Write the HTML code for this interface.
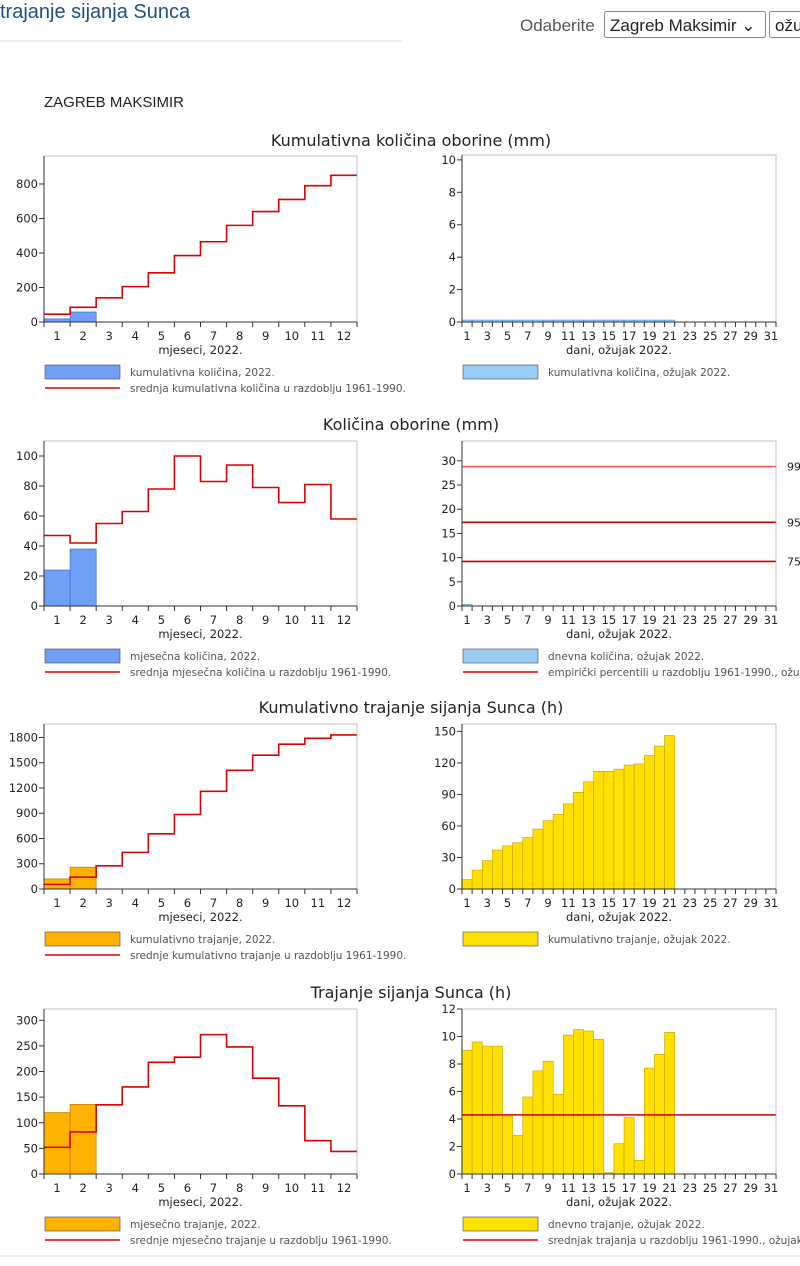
<!DOCTYPE html><html><head><meta charset="utf-8"><style>
body{margin:0;width:800px;height:1266px;overflow:hidden;background:#fff;font-family:"DejaVu Sans","Liberation Sans",sans-serif;}
</style></head><body>
<svg id="s" width="800" height="1266" xmlns="http://www.w3.org/2000/svg" style="position:absolute;left:0;top:0"></svg>
<script>
const s=document.getElementById('s');let h='';
function T(x,y,t,o){o=o||{};h+=`<text x="${x}" y="${y}" font-size="${o.fs||11}" fill="${o.c||'#222'}" text-anchor="${o.a||'middle'}" font-family="${o.ff||'DejaVu Sans,Liberation Sans,sans-serif'}">${t}</text>`;}
function R(x,y,w,hh,f,st){h+=`<rect x="${x}" y="${y}" width="${w}" height="${hh}" fill="${f}" stroke="${st||'none'}" stroke-width="0.6"/>`;}
function L(x1,y1,x2,y2,c,w){h+=`<line x1="${x1}" y1="${y1}" x2="${x2}" y2="${y2}" stroke="${c}" stroke-width="${w||1}"/>`;}
T(0,18,'trajanje sijanja Sunca',{fs:20,c:'#1d4f86',a:'start',ff:'Liberation Sans,sans-serif'});
L(0,41,402,41,'#ddd',1);
T(520,31,'Odaberite',{fs:17,c:'#555',a:'start',ff:'Liberation Sans,sans-serif'});
h+=`<rect x="604.5" y="11.5" width="161" height="26" rx="2" fill="#fff" stroke="#888"/>`;
T(610,31,'Zagreb Maksimir ⌄',{fs:17,c:'#222',a:'start',ff:'Liberation Sans,sans-serif'});
h+=`<rect x="769.5" y="11.5" width="40" height="26" rx="2" fill="#fff" stroke="#888"/>`;
T(775,31,'ožujak',{fs:17,c:'#222',a:'start',ff:'Liberation Sans,sans-serif'});
T(44,107,'ZAGREB MAKSIMIR',{fs:15,a:'start',ff:'Liberation Sans,sans-serif'});
function chart(cfg){
 const {x0,x1,top,bot,max,ticks,n,bars,bc,bs,red,hl,xl,leg}=cfg;
 const sy=v=>bot-(v/max)*(bot-top);const w=(x1-x0)/n;
 if(bars)bars.forEach((v,i)=>{if(v!=null)R(x0+i*w,sy(v),w,bot-sy(v),bc,bs);});
 if(red){let p='';red.forEach((v,i)=>{p+=(i?'L':'M')+(x0+i*w)+','+sy(v)+'L'+(x0+(i+1)*w)+','+sy(v);});h+=`<path d="${p}" fill="none" stroke="#d00" stroke-width="1.6"/>`;}
 if(hl)hl.forEach(v=>{L(x0,sy(v[0]),x1,sy(v[0]),v[1],v[2]);if(v[3])T(787,sy(v[0])+4,v[3],{a:'start'});});
 R(x0,top,x1-x0,bot-top,'none','#999');
 L(x0,bot,x1,bot,'#333',1);L(x0,top,x0,bot,'#333',1);
 ticks.forEach(v=>{L(x0-5,sy(v),x0,sy(v),'#333');T(x0-6,sy(v)+4,v,{a:'end',fs:11.5});});
 for(let i=0;i<=n;i++)L(x0+i*w,bot,x0+i*w,bot+5,'#333');
 for(let i=0;i<n;i++){if(n==12||i%2==0)T(x0+(i+.5)*w,bot+18,i+1,{fs:11.5});}
 T((x0+x1)/2,bot+32,xl,{fs:11.5});
 R(x0+1,bot+43,75,14,leg[2],'#445');T(x0+86,bot+54,leg[0],{a:'start',fs:10.5,c:'#555'});
 if(leg[1]){L(x0+1,bot+66,x0+76,bot+66,'#d00',1.6);T(x0+86,bot+70,leg[1],{a:'start',fs:10.5,c:'#555'});}
}
const LX=[44,357],RX=[462,776];
const d21=a=>a.concat(Array(31-a.length).fill(null));
T(411,146,'Kumulativna količina oborine (mm)',{fs:16});
chart({x0:LX[0],x1:LX[1],top:156,bot:322,max:962,ticks:[0,200,400,600,800],n:12,bars:[18,58],bc:'#6fa0f5',bs:'#3060c0',red:[45,85,140,205,285,385,465,560,640,710,790,850],xl:'mjeseci, 2022.',leg:['kumulativna količina, 2022.','srednja kumulativna količina u razdoblju 1961-1990.','#6fa0f5']});
chart({x0:RX[0],x1:RX[1],top:155,bot:322,max:10.3,ticks:[0,2,4,6,8,10],n:31,bars:d21(Array(21).fill(0.12)),bc:'#99ccf5',bs:'#5090d0',xl:'dani, ožujak 2022.',leg:['kumulativna količina, ožujak 2022.','','#99ccf5']});
T(411,430,'Količina oborine (mm)',{fs:16});
chart({x0:LX[0],x1:LX[1],top:441,bot:606,max:110,ticks:[0,20,40,60,80,100],n:12,bars:[24,38],bc:'#6fa0f5',bs:'#3060c0',red:[47,42,55,63,78,100,83,94,79,69,81,58],xl:'mjeseci, 2022.',leg:['mjesečna količina, 2022.','srednja mjesečna količina u razdoblju 1961-1990.','#6fa0f5']});
chart({x0:RX[0],x1:RX[1],top:441,bot:606,max:34.1,ticks:[0,5,10,15,20,25,30],n:31,bars:[0.3],bc:'#99ccf5',bs:'#5090d0',hl:[[28.8,'#f55',1.5,'99'],[17.3,'#c00',1.6,'95'],[9.2,'#c00',1.6,'75']],xl:'dani, ožujak 2022.',leg:['dnevna količina, ožujak 2022.','empirički percentili u razdoblju 1961-1990., ožujak','#99ccf5']});
T(411,713,'Kumulativno trajanje sijanja Sunca (h)',{fs:16});
chart({x0:LX[0],x1:LX[1],top:724,bot:889,max:1960,ticks:[0,300,600,900,1200,1500,1800],n:12,bars:[120,260],bc:'#ffb300',bs:'#b07000',red:[55,140,275,435,655,885,1160,1410,1590,1720,1790,1830],xl:'mjeseci, 2022.',leg:['kumulativno trajanje, 2022.','srednje kumulativno trajanje u razdoblju 1961-1990.','#ffb300']});
chart({x0:RX[0],x1:RX[1],top:724,bot:889,max:157,ticks:[0,30,60,90,120,150],n:31,bars:d21([9,18,27,37,41,44,49,57,65,71,81,92,102,112,112,114,118,119,127,136,146]),bc:'#ffe000',bs:'#c0a000',xl:'dani, ožujak 2022.',leg:['kumulativno trajanje, ožujak 2022.','','#ffe000']});
T(411,998,'Trajanje sijanja Sunca (h)',{fs:16});
chart({x0:LX[0],x1:LX[1],top:1009,bot:1174,max:322,ticks:[0,50,100,150,200,250,300],n:12,bars:[120,136],bc:'#ffb300',bs:'#b07000',red:[52,82,135,170,218,228,272,248,187,133,65,44],xl:'mjeseci, 2022.',leg:['mjesečno trajanje, 2022.','srednje mjesečno trajanje u razdoblju 1961-1990.','#ffb300']});
chart({x0:RX[0],x1:RX[1],top:1009,bot:1174,max:12,ticks:[0,2,4,6,8,10,12],n:31,bars:d21([9.0,9.6,9.3,9.3,4.2,2.8,5.6,7.5,8.2,5.8,10.1,10.5,10.4,9.8,0.1,2.2,4.1,1.0,7.7,8.7,10.3]),bc:'#ffe000',bs:'#c0a000',hl:[[4.3,'#c00',1.6]],xl:'dani, ožujak 2022.',leg:['dnevno trajanje, ožujak 2022.','srednjak trajanja u razdoblju 1961-1990., ožujak','#ffe000']});
L(0,1256,800,1256,'#eee',2);
s.innerHTML=h;
</script>
</body></html>
